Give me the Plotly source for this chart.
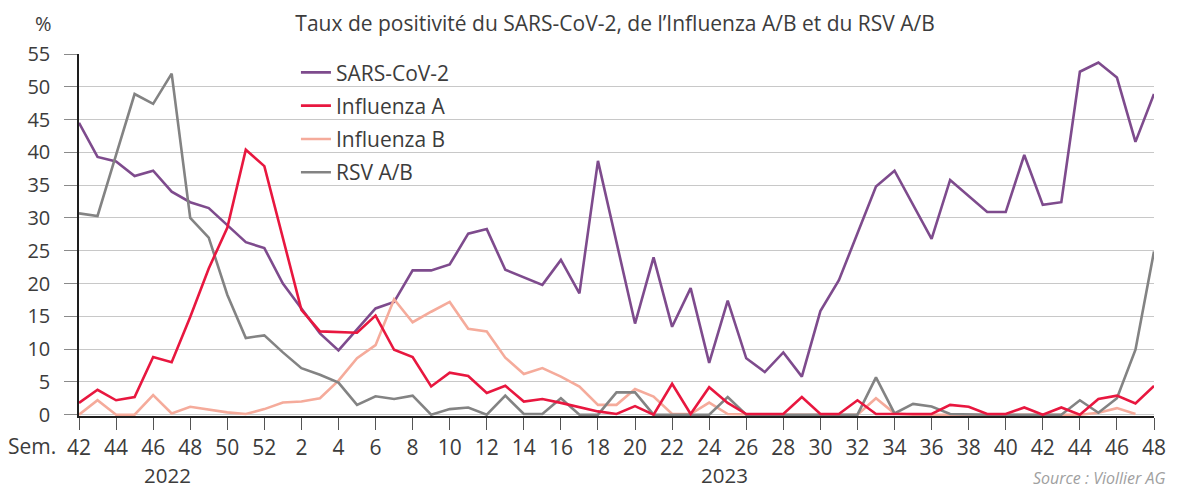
import plotly.graph_objects as go

# ---- data ----
weeks_2022 = [42, 43, 44, 45, 46, 47, 48, 49, 50, 51, 52]
weeks_2023 = [1, 2, 3, 4, 5, 6, 7, 8, 9, 10, 11, 12, 13, 14, 15, 16, 17, 18, 19, 20,
              21, 22, 23, 24, 25, 26, 27, 28, 29, 30, 31, 32, 33, 34, 35, 36, 37, 38, 39, 40,
              41, 42, 43, 44, 45, 46, 47, 48]
categories = [f"2022-S{w}" for w in weeks_2022] + [f"2023-S{w}" for w in weeks_2023]
week_labels = weeks_2022 + weeks_2023

sars_cov_2 = [44.5, 39.3, 38.6, 36.4, 37.2, 34.0, 32.4, 31.5, 28.9, 26.3, 25.4,
              20.0, 16.2, 12.4, 9.8, 13.0, 16.2, 17.2, 22.0, 22.0, 22.9,
              27.6, 28.3, 22.1, 21.0, 19.8, 23.6, 18.5, 38.7, 26.4, 13.9,
              24.0, 13.4, 19.3, 7.9, 17.4, 8.6, 6.5, 9.5, 5.8, 15.8,
              20.5, 27.5, 34.8, 37.2, 32.0, 26.8, 35.8, 33.3, 30.9, 30.9,
              39.6, 32.0, 32.4, 52.3, 53.7, 51.4, 41.6, 48.9]
influenza_a = [1.8, 3.8, 2.2, 2.7, 8.8, 8.0, 14.9, 22.3, 28.5, 40.4, 37.9,
               27.0, 16.0, 12.7, 12.6, 12.5, 15.1, 9.9, 8.8, 4.3, 6.4,
               5.9, 3.3, 4.4, 2.0, 2.4, 1.8, 1.2, 0.5, 0.1, 1.3,
               0.0, 4.7, 0.1, 4.2, 1.8, 0.1, 0.1, 0.1, 2.7, 0.1,
               0.1, 2.2, 0.1, 0.1, 0.1, 0.1, 1.5, 1.2, 0.1, 0.1,
               1.1, 0.0, 1.1, 0.0, 2.4, 2.9, 1.7, 4.4]
influenza_b = [0.0, 2.2, 0.0, 0.0, 3.0, 0.2, 1.2, 0.75, 0.35, 0.1, 0.85,
               1.85, 2.0, 2.5, 5.2, 8.6, 10.6, 17.6, 14.1, 15.7, 17.2,
               13.1, 12.7, 8.7, 6.2, 7.1, 5.8, 4.3, 1.5, 1.5, 3.9,
               2.75, 0.1, 0.1, 1.85, 0.1, 0.0, 0.0, 0.0, 0.0, 0.0,
               0.0, 0.0, 2.5, 0.2, 0.0, 0.0, 0.0, 0.0, 0.0, 0.0,
               0.0, 0.0, 0.0, 0.0, 0.3, 1.0, 0.1, None]
rsv_ab = [30.7, 30.3, 39.6, 48.9, 47.4, 52.0, 30.0, 27.0, 18.3, 11.7, 12.1,
          9.5, 7.1, 6.1, 4.9, 1.5, 2.8, 2.4, 2.9, 0.0, 0.85,
          1.1, 0.0, 2.9, 0.1, 0.1, 2.5, 0.0, 0.0, 3.4, 3.4,
          0.0, 0.0, 0.0, 0.0, 2.7, 0.0, 0.0, 0.0, 0.0, 0.0,
          0.0, 0.0, 5.7, 0.2, 1.65, 1.25, 0.1, 0.0, 0.0, 0.0,
          0.0, 0.0, 0.0, 2.2, 0.3, 2.5, 9.9, 24.9]

y_ticks = [0, 5, 10, 15, 20, 25, 30, 35, 40, 45, 50, 55]
title_text = "Taux de positivité du SARS-CoV-2, de l’Influenza A/B et du RSV A/B"

# ---- styles ----
series = [
    # (name, values, color, legendrank) in drawing order
    ("SARS-CoV-2", sars_cov_2, "#7e4b8d", 1),
    ("Influenza B", influenza_b, "#f5ab9b", 3),
    ("RSV A/B", rsv_ab, "#838383", 4),
    ("Influenza A", influenza_a, "#e8173f", 2),
]

FONT = "Open Sans, Noto Sans, sans-serif"
TXT = "#3c3c3c"

fig = go.Figure()
for name, vals, color, rank in series:
    fig.add_trace(go.Scatter(
        x=categories, y=vals, name=name, mode="lines",
        line=dict(color=color, width=2.6),
        legendrank=rank, legendgroup=name,
        connectgaps=False, hoverinfo="skip",
    ))

tick_vals = categories[::2]
tick_text = [str(w) for w in week_labels[::2]]

# page body adds an 8px offset; the figure is sized to fit the 1180x488 window
fig.update_layout(
    width=1172, height=480,
    margin=dict(l=71, r=26, t=46, b=72),
    paper_bgcolor="white", plot_bgcolor="white",
    font=dict(family=FONT, size=20, color=TXT),
    title=dict(text=title_text, x=0.518, xref="container", xanchor="center",
               y=0.967, yref="container", yanchor="middle",
               font=dict(family=FONT, size=21, color=TXT)),
    legend=dict(x=0.2018, y=1.005, xanchor="left", yanchor="top",
                bgcolor="rgba(0,0,0,0)", font=dict(size=21, color=TXT),
                tracegroupgap=3, itemwidth=30),
    xaxis=dict(type="category", range=[0, len(categories) - 1],
               tickmode="array", tickvals=tick_vals, ticktext=tick_text,
               showgrid=False, showline=True, linecolor="#1e1e1e", linewidth=1.5,
               ticks="outside", ticklen=12, tickwidth=1.3, tickcolor="#555",
               tickfont=dict(size=21, color=TXT), zeroline=False),
    yaxis=dict(range=[-0.2, 55], tickmode="array", tickvals=y_ticks,
               showgrid=True, gridcolor="#c8c8c8", gridwidth=1.2,
               showline=True, linecolor="#1e1e1e", linewidth=1.5,
               ticks="outside", ticklen=13, tickwidth=1.2, tickcolor="#8a8a8a",
               ticklabelstandoff=10,
               tickfont=dict(size=20, color=TXT), zeroline=False),
)

# text labels
fig.add_annotation(text="%", xref="paper", yref="paper", x=-0.0326, y=1.085,
                   xanchor="center", yanchor="middle", showarrow=False,
                   font=dict(size=20, color=TXT))
fig.add_annotation(text="Sem.", xref="paper", yref="paper", x=-0.0195, y=-0.0815,
                   xanchor="right", yanchor="middle", showarrow=False,
                   font=dict(size=21, color=TXT))
fig.add_annotation(text="2022", xref="x", yref="paper", x=categories[5], xshift=-4,
                   y=-0.163, xanchor="center", yanchor="middle", showarrow=False,
                   font=dict(size=20.5, color=TXT))
fig.add_annotation(text="2023", xref="x", yref="paper", x=categories[35], xshift=-3,
                   y=-0.163, xanchor="center", yanchor="middle", showarrow=False,
                   font=dict(size=20.5, color=TXT))
fig.add_annotation(text="<i>Source : Viollier AG</i>", xref="paper", yref="paper",
                   x=1.013, y=-0.17, xanchor="right", yanchor="middle", showarrow=False,
                   font=dict(size=16, color="#a0a0a0"))

fig.write_html("out.html")
